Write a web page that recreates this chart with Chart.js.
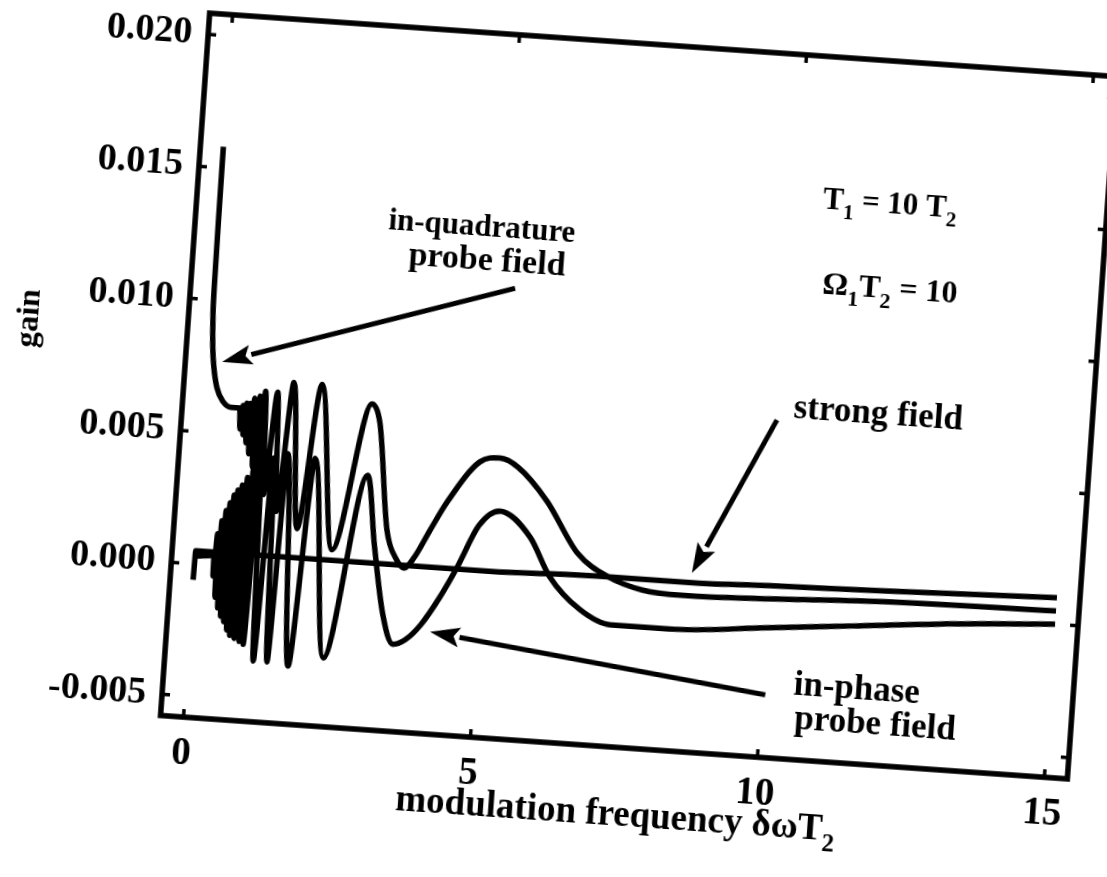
<!DOCTYPE html>
<html>
<head>
<meta charset="utf-8">
<script src="https://cdn.jsdelivr.net/npm/chart.js@4.4.1/dist/chart.umd.min.js"></script>
<style>
    html, body { margin: 0; padding: 0; background: #fff; overflow: hidden; }
    /* the scanned figure sits a few degrees off level */
    #wrap { position: absolute; left: 0; top: 0; width: 1107px; height: 877px;
            transform-origin: 638px 396px; transform: rotate(4deg); }
</style>
</head>
<body>
<div id="wrap"><canvas id="gainChart" width="1107" height="877"></canvas></div>
<script>
// tick labels
const xTicks = [0, 5, 10, 15];
const yTicks = [-0.005, 0.000, 0.005, 0.010, 0.015, 0.020];

// in-quadrature probe field
const quadX = [0.000, 0.004, 0.012, 0.03, 0.06, 0.10, 0.18, 0.30, 0.45, 0.60,
    0.63, 0.66, 0.69, 0.72, 0.75, 0.78, 0.81, 0.85, 0.89, 0.94, 0.98,
    1.03, 1.12, 1.24, 1.36, 1.51, 1.74, 2.00, 2.37, 2.89,
    3.05, 3.30, 3.50, 3.64, 3.80, 4.05, 4.31, 4.83, 5.17, 5.50, 6.04, 6.64,
    7.20, 7.80, 8.50, 10.0, 12.0, 15.0];
const quadY = [0.0158, 0.0130, 0.0105, 0.0092, 0.0082, 0.0075, 0.0067, 0.0062, 0.0060, 0.0060,
    0.0052, 0.0061, 0.0050, 0.0062, 0.0047, 0.0062, 0.0043, 0.0064, 0.0038, 0.0065, 0.0033,
    0.0067, 0.0028, 0.0067, 0.0022, 0.0071, 0.0016, 0.0071, 0.0009, 0.0065,
    0.0058, 0.0018, 0.0007, 0.0004, 0.0008, 0.0019, 0.0030, 0.0046, 0.0048, 0.0045, 0.0033, 0.0014,
    0.0006, 0.0002, 0.0001, 0.0002, 0.0004, 0.0005];

// in-phase probe field
const phaseX = [0.000, 0.010, 0.33, 0.34,
    0.37, 0.40, 0.43, 0.46, 0.49, 0.52, 0.55, 0.58, 0.61, 0.64, 0.67, 0.70,
    0.74, 0.78, 0.82, 0.87, 0.91, 0.945,
    1.03, 1.14, 1.25, 1.38, 1.49, 1.75, 1.97, 2.35, 2.90,
    3.10, 3.33, 3.54, 3.75, 4.00, 4.30, 4.57, 4.89, 5.24, 5.79, 6.18, 6.74,
    7.30, 8.30, 10.0, 11.5, 13.0, 15.0];
const phaseY = [-0.0006, 0.0005, 0.0005, -0.0004,
    0.0012, -0.0012, 0.0017, -0.0016, 0.0021, -0.0019, 0.0024, -0.0021, 0.0027, -0.0024, 0.0029, -0.0026,
    0.0031, -0.0027, 0.0034, -0.0028, 0.0037, -0.0029,
    0.0040, -0.0035, 0.0042, -0.0035, 0.0044, -0.0036, 0.0043, -0.0032, 0.0038,
    0.0012, -0.0014, -0.0025, -0.0023, -0.0017, -0.0006, 0.0006, 0.0022, 0.0028, 0.0019, 0.00045, -0.0007,
    -0.0012, -0.0012, -0.0009, -0.0006, -0.0003, 0.0000];

// strong field
const strongX = [0, 1, 2, 3.5, 5, 7, 8.5, 10, 12, 15];
const strongY = [0.0003, 0.0005, 0.0005, 0.0005, 0.0005, 0.0006, 0.0006, 0.0007, 0.0008, 0.0010];

const serif = '"Liberation Serif", "Times New Roman", serif';

function toPoints(xs, ys) {
    return xs.map((x, i) => ({ x: x, y: ys[i] }));
}

function curve(label, xs, ys) {
    return {
        label: label,
        data: toPoints(xs, ys),
        borderColor: '#000',
        borderWidth: 5.5,
        pointRadius: 0,
        fill: false,
        cubicInterpolationMode: 'monotone'
    };
}

// text with subscripts, parts = [[text, isSub], ...]
function drawRich(ctx, parts, cx, cy, size) {
    const main = `bold ${size}px ${serif}`;
    const sub = `bold ${Math.round(size * 0.68)}px ${serif}`;
    let w = 0;
    parts.forEach(([t, s]) => { ctx.font = s ? sub : main; w += ctx.measureText(t).width; });
    let x = cx - w / 2;
    ctx.textAlign = 'left';
    ctx.textBaseline = 'middle';
    parts.forEach(([t, s]) => {
        ctx.font = s ? sub : main;
        ctx.fillText(t, x, cy + (s ? size * 0.38 : 0));
        x += ctx.measureText(t).width;
    });
}

function drawArrow(ctx, x1, y1, x2, y2) {
    const a = Math.atan2(y2 - y1, x2 - x1);
    const len = 30, half = 10;
    const bx = x2 - len * Math.cos(a), by = y2 - len * Math.sin(a);
    ctx.beginPath();
    ctx.moveTo(x1, y1);
    ctx.lineTo(bx, by);
    ctx.lineWidth = 5;
    ctx.stroke();
    ctx.beginPath();
    ctx.moveTo(x2, y2);
    ctx.lineTo(bx + half * Math.sin(a), by - half * Math.cos(a));
    ctx.lineTo(bx + len * 0.2 * Math.cos(a), by + len * 0.2 * Math.sin(a));
    ctx.lineTo(bx - half * Math.sin(a), by + half * Math.cos(a));
    ctx.closePath();
    ctx.fill();
}

// labels and arrows, placed in data units
const notes = [
    { at: [4.58, 0.01342], size: 31, parts: [['in-quadrature', false]] },
    { at: [4.71, 0.01216], size: 34, parts: [['probe field', false]] },
    { at: [11.63, 0.01536], size: 31, parts: [['T', false], ['1', true], [' = 10 T', false], ['2', true]] },
    { at: [11.73, 0.01216], size: 32, parts: [['Ω', false], ['1', true], ['T', false], ['2', true], [' = 10', false]] },
    { at: [11.68, 0.00741], size: 35, parts: [['strong field', false]] },
    { at: [11.64, -0.0030], size: 35, parts: [['in-phase', false]] },
    { at: [12.0, -0.00428], size: 35, parts: [['probe field', false]] }
];
const arrows = [
    [5.23, 0.01124, 0.24, 0.00769],
    [9.93, 0.00696, 8.64, 0.00097],
    [10.06, -0.00343, 4.17, -0.00194]
];

const framePlugin = {
    id: 'frame',
    afterDatasetsDraw(chart) {
        const { ctx, chartArea: a, scales: { x, y } } = chart;
        ctx.save();
        ctx.strokeStyle = '#000';
        ctx.fillStyle = '#000';
        ctx.lineWidth = 5.5;
        ctx.strokeRect(a.left, a.top, a.right - a.left, a.bottom - a.top);
        ctx.lineWidth = 3.5;
        const t = 8;
        xTicks.forEach(v => {
            const px = x.getPixelForValue(v);
            ctx.beginPath();
            ctx.moveTo(px, a.bottom); ctx.lineTo(px, a.bottom - t);
            ctx.moveTo(px, a.top); ctx.lineTo(px, a.top + t);
            ctx.stroke();
        });
        yTicks.forEach(v => {
            const py = y.getPixelForValue(v);
            ctx.beginPath();
            ctx.moveTo(a.left, py); ctx.lineTo(a.left + t, py);
            ctx.moveTo(a.right, py); ctx.lineTo(a.right - t, py);
            ctx.stroke();
        });

        notes.forEach(n => {
            drawRich(ctx, n.parts, x.getPixelForValue(n.at[0]), y.getPixelForValue(n.at[1]), n.size);
        });
        arrows.forEach(([x1, y1, x2, y2]) => {
            drawArrow(ctx, x.getPixelForValue(x1), y.getPixelForValue(y1),
                x.getPixelForValue(x2), y.getPixelForValue(y2));
        });

        // axis titles
        drawRich(ctx, [['modulation frequency δωT', false], ['2', true]],
            (a.left + a.right) / 2 + 6, a.bottom + 68, 37);
        ctx.save();
        ctx.translate(26, 361);
        ctx.rotate(-Math.PI / 2);
        drawRich(ctx, [['gain', false]], 0, 0, 32);
        ctx.restore();
        ctx.restore();
    }
};

const ctx = document.getElementById('gainChart').getContext('2d');
const gainChart = new Chart(ctx, {
    type: 'line',
    data: {
        datasets: [
            curve('in-quadrature probe field', quadX, quadY),
            curve('in-phase probe field', phaseX, phaseY),
            curve('strong field', strongX, strongY)
        ]
    },
    options: {
        responsive: false,
        animation: false,
        layout: { padding: { left: 0, top: 44, right: 14, bottom: 0 } },
        plugins: {
            legend: { display: false },
            tooltip: { enabled: false }
        },
        scales: {
            x: {
                type: 'linear',
                min: -0.4,
                max: 15.4,
                afterBuildTicks: s => { s.ticks = xTicks.map(v => ({ value: v })); },
                afterFit: s => { s.height = 129; },
                grid: { display: false, drawTicks: false },
                border: { display: false },
                ticks: {
                    color: '#000',
                    padding: 14,
                    maxRotation: 0,
                    font: { family: serif, size: 39, weight: 'bold' }
                }
            },
            y: {
                min: -0.0058,
                max: 0.0208,
                afterBuildTicks: s => { s.ticks = yTicks.map(v => ({ value: v })); },
                afterFit: s => { s.width = 184; },
                grid: { display: false, drawTicks: false },
                border: { display: false },
                ticks: {
                    color: '#000',
                    padding: 16,
                    font: { family: serif, size: 38, weight: 'bold' },
                    callback: v => v.toFixed(3)
                }
            }
        }
    },
    plugins: [framePlugin]
});
</script>
</body>
</html>
